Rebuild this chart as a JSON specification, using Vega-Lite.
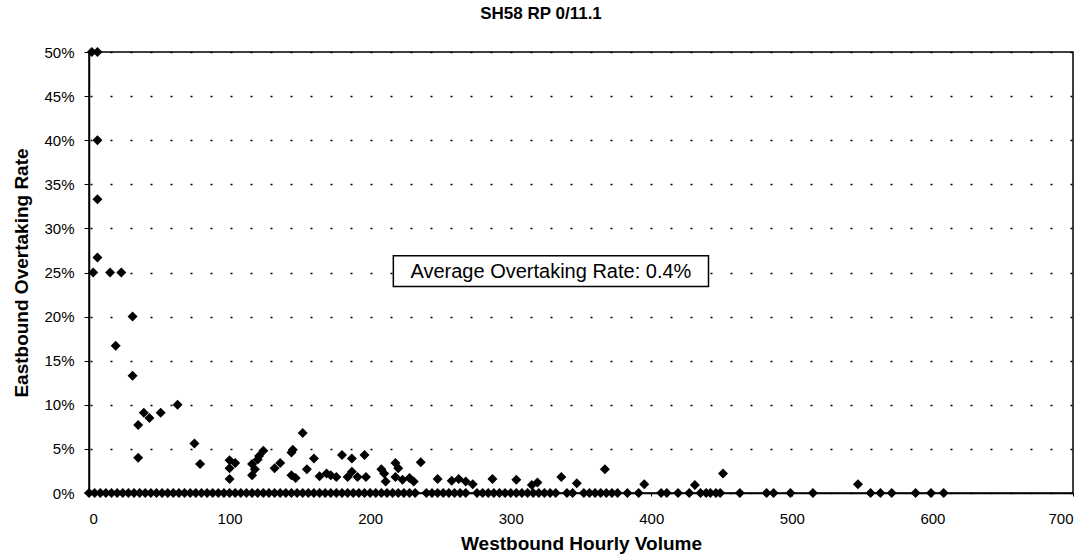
{
  "$schema": "https://vega.github.io/schema/vega-lite/v6.json",
  "width": 984,
  "height": 441,
  "autosize": {"type": "none"},
  "padding": {"left": 89, "top": 52, "right": 18, "bottom": 61},
  "background": "white",
  "title": {"text": "SH58 RP 0/11.1", "fontSize": 17, "fontWeight": "bold", "font": "Liberation Sans", "color": "black", "offset": 22, "dx": -40},
  "config": {
    "view": {"stroke": "black", "strokeWidth": 1.5},
    "font": "Liberation Sans"
  },
  "datasets": {
    "pts": [
      {"volume": 0, "rate": 0}, {"volume": 4, "rate": 0}, {"volume": 8, "rate": 0}, {"volume": 12, "rate": 0}, {"volume": 16, "rate": 0}, {"volume": 20, "rate": 0}, {"volume": 24, "rate": 0}, {"volume": 28, "rate": 0}, {"volume": 32, "rate": 0}, {"volume": 36, "rate": 0}, {"volume": 40, "rate": 0}, {"volume": 44, "rate": 0}, {"volume": 48, "rate": 0}, {"volume": 52, "rate": 0}, {"volume": 56, "rate": 0}, {"volume": 60, "rate": 0}, {"volume": 64, "rate": 0}, {"volume": 68, "rate": 0}, {"volume": 72, "rate": 0}, {"volume": 76, "rate": 0}, {"volume": 80, "rate": 0}, {"volume": 84, "rate": 0}, {"volume": 88, "rate": 0}, {"volume": 92, "rate": 0}, {"volume": 96, "rate": 0}, {"volume": 100, "rate": 0}, {"volume": 104, "rate": 0}, {"volume": 108, "rate": 0}, {"volume": 112, "rate": 0}, {"volume": 116, "rate": 0}, {"volume": 120, "rate": 0}, {"volume": 124, "rate": 0}, {"volume": 128, "rate": 0}, {"volume": 132, "rate": 0}, {"volume": 136, "rate": 0}, {"volume": 140, "rate": 0}, {"volume": 144, "rate": 0}, {"volume": 148, "rate": 0}, {"volume": 152, "rate": 0}, {"volume": 156, "rate": 0}, {"volume": 160, "rate": 0}, {"volume": 164, "rate": 0}, {"volume": 168, "rate": 0}, {"volume": 172, "rate": 0}, {"volume": 176, "rate": 0}, {"volume": 180, "rate": 0}, {"volume": 184, "rate": 0}, {"volume": 188, "rate": 0}, {"volume": 192, "rate": 0}, {"volume": 196, "rate": 0}, {"volume": 200, "rate": 0}, {"volume": 204, "rate": 0}, {"volume": 208, "rate": 0}, {"volume": 212, "rate": 0}, {"volume": 216, "rate": 0}, {"volume": 220, "rate": 0}, {"volume": 224, "rate": 0}, {"volume": 228, "rate": 0}, {"volume": 232, "rate": 0},
      {"volume": 240, "rate": 0}, {"volume": 244, "rate": 0}, {"volume": 248, "rate": 0}, {"volume": 252, "rate": 0}, {"volume": 256, "rate": 0}, {"volume": 260, "rate": 0}, {"volume": 264, "rate": 0}, {"volume": 268, "rate": 0},
      {"volume": 276, "rate": 0}, {"volume": 280, "rate": 0}, {"volume": 284, "rate": 0}, {"volume": 288, "rate": 0}, {"volume": 292, "rate": 0}, {"volume": 296, "rate": 0}, {"volume": 300, "rate": 0}, {"volume": 304, "rate": 0}, {"volume": 308, "rate": 0}, {"volume": 312, "rate": 0}, {"volume": 316, "rate": 0}, {"volume": 320, "rate": 0}, {"volume": 324, "rate": 0}, {"volume": 328, "rate": 0}, {"volume": 332, "rate": 0},
      {"volume": 340, "rate": 0}, {"volume": 344, "rate": 0},
      {"volume": 352, "rate": 0}, {"volume": 356, "rate": 0}, {"volume": 360, "rate": 0}, {"volume": 364, "rate": 0}, {"volume": 368, "rate": 0}, {"volume": 372, "rate": 0}, {"volume": 376, "rate": 0},
      {"volume": 383, "rate": 0}, {"volume": 391, "rate": 0}, {"volume": 407, "rate": 0}, {"volume": 411, "rate": 0}, {"volume": 419, "rate": 0}, {"volume": 427, "rate": 0}, {"volume": 435, "rate": 0}, {"volume": 439, "rate": 0}, {"volume": 442, "rate": 0}, {"volume": 446, "rate": 0}, {"volume": 449, "rate": 0}, {"volume": 463, "rate": 0}, {"volume": 482, "rate": 0}, {"volume": 487, "rate": 0}, {"volume": 499, "rate": 0}, {"volume": 515, "rate": 0}, {"volume": 556, "rate": 0}, {"volume": 563, "rate": 0}, {"volume": 571, "rate": 0}, {"volume": 588, "rate": 0}, {"volume": 599, "rate": 0}, {"volume": 608, "rate": 0},
      {"volume": 2, "rate": 50}, {"volume": 6, "rate": 50}, {"volume": 6, "rate": 40}, {"volume": 6, "rate": 33.3}, {"volume": 6, "rate": 26.7}, {"volume": 3, "rate": 25}, {"volume": 15, "rate": 25}, {"volume": 23, "rate": 25}, {"volume": 31, "rate": 20}, {"volume": 19, "rate": 16.7}, {"volume": 31, "rate": 13.3}, {"volume": 35, "rate": 7.7}, {"volume": 39, "rate": 9.1}, {"volume": 43, "rate": 8.5}, {"volume": 51, "rate": 9.1}, {"volume": 63, "rate": 10}, {"volume": 35, "rate": 4}, {"volume": 75, "rate": 5.6}, {"volume": 79, "rate": 3.3},
      {"volume": 100, "rate": 3.7}, {"volume": 104, "rate": 3.4}, {"volume": 100, "rate": 2.8}, {"volume": 100, "rate": 1.6},
      {"volume": 116, "rate": 2.0}, {"volume": 118, "rate": 2.7}, {"volume": 116, "rate": 3.3}, {"volume": 120, "rate": 3.8}, {"volume": 121, "rate": 4.2}, {"volume": 124, "rate": 4.8},
      {"volume": 132, "rate": 2.8}, {"volume": 136, "rate": 3.4}, {"volume": 144, "rate": 4.6}, {"volume": 145, "rate": 4.9}, {"volume": 152, "rate": 6.8}, {"volume": 144, "rate": 2.0}, {"volume": 147, "rate": 1.7}, {"volume": 160, "rate": 3.9}, {"volume": 155, "rate": 2.7}, {"volume": 164, "rate": 1.9}, {"volume": 169, "rate": 2.2}, {"volume": 172, "rate": 2.0}, {"volume": 176, "rate": 1.8}, {"volume": 180, "rate": 4.3}, {"volume": 187, "rate": 3.9}, {"volume": 196, "rate": 4.3}, {"volume": 184, "rate": 1.8}, {"volume": 187, "rate": 2.4}, {"volume": 191, "rate": 1.8}, {"volume": 197, "rate": 1.8}, {"volume": 208, "rate": 2.7}, {"volume": 210, "rate": 2.2}, {"volume": 211, "rate": 1.3}, {"volume": 218, "rate": 3.4}, {"volume": 220, "rate": 2.8}, {"volume": 218, "rate": 1.8}, {"volume": 223, "rate": 1.5}, {"volume": 228, "rate": 1.7}, {"volume": 231, "rate": 1.3}, {"volume": 236, "rate": 3.5}, {"volume": 248, "rate": 1.6}, {"volume": 258, "rate": 1.4}, {"volume": 263, "rate": 1.6}, {"volume": 268, "rate": 1.3}, {"volume": 273, "rate": 1.0}, {"volume": 287, "rate": 1.6}, {"volume": 304, "rate": 1.5}, {"volume": 315, "rate": 0.9}, {"volume": 319, "rate": 1.2}, {"volume": 336, "rate": 1.8}, {"volume": 347, "rate": 1.1}, {"volume": 367, "rate": 2.7}, {"volume": 395, "rate": 1.0}, {"volume": 431, "rate": 0.9}, {"volume": 451, "rate": 2.2}, {"volume": 547, "rate": 1.0}
    ],
    "note": [
      {"label": "Average Overtaking Rate: 0.4%", "x": 216.5, "x2": 440.7, "y": 23.4, "y2": 26.9, "cx": 328.6, "cy": 25.1}
    ]
  },
  "layer": [
    {
      "data": {"name": "pts"},
      "mark": {"type": "point", "shape": "diamond", "filled": true, "color": "black", "size": 100, "opacity": 1, "clip": false},
      "encoding": {
        "x": {
          "field": "volume", "type": "quantitative",
          "scale": {"domain": [0, 700], "nice": false},
          "axis": {
            "values": [0, 100, 200, 300, 400, 500, 600, 700],
            "title": "Westbound Hourly Volume",
            "titleFontSize": 19, "titleFontWeight": "bold", "titleColor": "black", "titlePadding": 8,
            "labelFontSize": 15, "labelColor": "black", "labelPadding": 15,
            "domainColor": "black", "domainWidth": 1.5,
            "tickColor": "black", "tickSize": 3,
            "grid": false
          }
        },
        "y": {
          "field": "rate", "type": "quantitative",
          "scale": {"domain": [0, 50], "nice": false},
          "axis": {
            "values": [0, 5, 10, 15, 20, 25, 30, 35, 40, 45, 50],
            "labelExpr": "datum.value + '%'",
            "title": "Eastbound Overtaking Rate",
            "titleFontSize": 19, "titleFontWeight": "bold", "titleColor": "black", "titlePadding": 12,
            "labelFontSize": 15, "labelColor": "black", "labelPadding": 10,
            "domainColor": "black", "domainWidth": 1.5,
            "tickColor": "black", "tickSize": 5,
            "grid": true, "gridColor": "black", "gridWidth": 1.5, "gridDash": [2, 18], "gridDashOffset": -1
          }
        }
      }
    },
    {
      "data": {"name": "note"},
      "mark": {"type": "rect", "fill": "white", "stroke": "black", "strokeWidth": 1.5},
      "encoding": {
        "x": {"field": "x", "type": "quantitative"},
        "x2": {"field": "x2"},
        "y": {"field": "y", "type": "quantitative"},
        "y2": {"field": "y2"}
      }
    },
    {
      "data": {"name": "note"},
      "mark": {"type": "text", "fontSize": 20, "color": "black", "align": "center", "baseline": "middle"},
      "encoding": {
        "x": {"field": "cx", "type": "quantitative"},
        "y": {"field": "cy", "type": "quantitative"},
        "text": {"field": "label"}
      }
    }
  ]
}
